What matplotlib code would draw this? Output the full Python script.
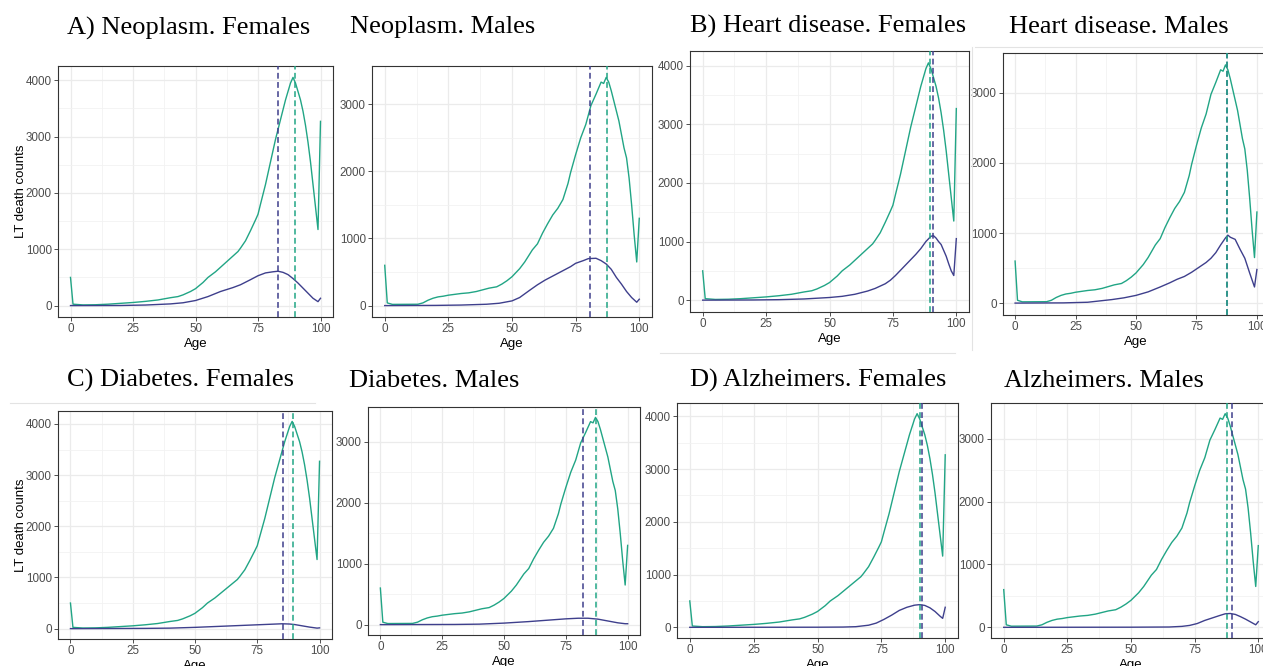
import matplotlib
matplotlib.use("Agg")
import matplotlib.pyplot as plt
from matplotlib.lines import Line2D

# all-cause life table deaths (green)
ages_f = [0, 1, 5, 10, 15, 20, 25, 30, 35, 40, 43, 45, 48, 50, 53, 55, 58, 60, 63, 65, 67, 68,
          70, 72, 74, 75, 76, 78, 80, 82, 84, 86, 88, 89, 90, 91, 92, 93, 94, 95, 96, 97, 98, 99, 100]
total_f = [500, 25, 12, 15, 25, 40, 55, 75, 100, 140, 160, 190, 250, 300, 410, 500, 600, 680, 800, 880, 960, 1020,
           1150, 1330, 1520, 1620, 1800, 2150, 2550, 2950, 3300, 3650, 3950, 4050, 3950, 3800, 3650, 3450, 3200, 2900, 2550, 2150, 1750, 1350, 3270]

ages_m = [0, 1, 3, 13, 15, 17, 19, 21, 23, 25, 28, 30, 33, 36, 39, 41, 44, 46, 48, 50, 53, 55, 58, 60, 61, 62,
          64, 66, 68, 70, 72, 73, 75, 77, 79, 81, 83, 85, 86, 87, 88, 89, 90, 91, 92, 93, 94, 95, 96, 97, 98, 99, 100]
total_m = [600, 40, 18, 20, 40, 80, 110, 130, 140, 155, 170, 180, 190, 210, 240, 260, 280, 320, 370, 430, 550, 650, 830, 920, 1000, 1080,
           1220, 1350, 1450, 1580, 1820, 1980, 2250, 2500, 2700, 2980, 3150, 3330, 3310, 3400, 3330, 3200, 3050, 2900, 2750, 2550, 2350, 2200, 1900, 1500, 1050, 650, 1300]

# cause specific deaths (blue)
neo_f_age = [0, 20, 30, 40, 45, 50, 55, 60, 65, 68, 72, 75, 78, 81, 83, 85, 87, 89, 91, 93, 95, 97, 99, 100]
neo_f = [0, 2, 10, 30, 50, 90, 160, 250, 320, 370, 460, 530, 580, 600, 610, 590, 550, 480, 400, 310, 220, 130, 70, 130]
neo_m_age = [0, 20, 30, 40, 45, 50, 53, 57, 60, 63, 66, 70, 73, 75, 78, 80, 83, 85, 87, 89, 91, 93, 95, 97, 99, 100]
neo_m = [0, 3, 8, 20, 35, 70, 120, 230, 310, 380, 440, 520, 580, 630, 670, 700, 705, 670, 620, 540, 420, 320, 210, 120, 50, 95]

heart_f_age = [0, 20, 30, 40, 50, 55, 60, 65, 68, 70, 72, 74, 76, 78, 80, 82, 84, 86, 88, 90, 91, 92, 93, 94, 95, 96, 97, 98, 99, 100]
heart_f = [0, 3, 8, 20, 45, 65, 100, 155, 200, 240, 280, 340, 420, 510, 600, 690, 780, 880, 1000, 1090, 1100, 1060, 1000, 950, 850, 750, 620, 500, 420, 1050]
heart_m_age = [0, 20, 30, 40, 45, 50, 55, 60, 64, 67, 70, 73, 76, 79, 81, 83, 85, 87, 88, 89, 91, 93, 95, 97, 99, 100]
heart_m = [0, 3, 12, 50, 75, 110, 160, 230, 290, 340, 380, 440, 510, 580, 640, 720, 830, 930, 970, 940, 910, 770, 640, 430, 230, 480]

diab_f_age = [0, 30, 40, 50, 60, 70, 80, 85, 88, 90, 93, 96, 99, 100]
diab_f = [0, 5, 10, 25, 45, 65, 85, 95, 90, 80, 55, 30, 10, 15]
diab_m_age = [0, 30, 40, 50, 60, 70, 75, 80, 84, 88, 92, 96, 99, 100]
diab_m = [0, 3, 8, 25, 50, 80, 95, 105, 105, 90, 60, 30, 15, 15]

alz_f_age = [0, 50, 60, 65, 70, 73, 76, 79, 82, 85, 88, 90, 92, 94, 96, 98, 99, 100]
alz_f = [0, 2, 5, 12, 40, 80, 150, 230, 320, 380, 420, 430, 415, 370, 300, 210, 170, 380]
alz_m_age = [0, 50, 65, 70, 73, 76, 79, 82, 85, 87, 89, 91, 93, 95, 97, 99, 100]
alz_m = [0, 2, 5, 15, 30, 60, 110, 150, 190, 215, 220, 205, 170, 130, 85, 40, 90]

# dashed reference ages (green = all causes, blue = cause)
vline_green = [89.7, 87.5, 89.5, 87.5, 89.5, 87.1, 90.0, 87.8]
vline_blue = [83.1, 80.7, 90.9, 87.6, 85.3, 81.8, 91.0, 89.5]

titles = ["A) Neoplasm. Females", "Neoplasm. Males",
          "B) Heart disease. Females", "Heart disease. Males",
          "C) Diabetes. Females", "Diabetes. Males",
          "D) Alzheimers. Females", "Alzheimers. Males"]

GREEN = "#21A585"
BLUE = "#3E3F8C"
W, H = 1263, 666

fig = plt.figure(figsize=(W / 100, H / 100), dpi=100)
fig.patch.set_facecolor("white")

# (left, top, right, bottom) in pixels, title x, title baseline
layout = [
    ((58, 66, 333, 317), 67, 35),
    ((372, 66, 652, 317), 350, 33),
    ((690, 51, 969, 312), 690, 33),
    ((1003, 53, 1269, 315), 1009, 33),
    ((58, 411, 332, 639), 67, 387),
    ((368, 407, 640, 635), 349, 387),
    ((677, 403, 958, 638), 690, 387),
    ((991, 403, 1271, 638), 1004, 387),
]
causes = [(neo_f_age, neo_f), (neo_m_age, neo_m), (heart_f_age, heart_f), (heart_m_age, heart_m),
          (diab_f_age, diab_f), (diab_m_age, diab_m), (alz_f_age, alz_f), (alz_m_age, alz_m)]

for i in range(8):
    (l, t, r, b), tx, ty = layout[i]
    ax = fig.add_axes([l / W, 1 - b / H, (r - l) / W, (b - t) / H])
    female = i % 2 == 0
    a_tot, v_tot = (ages_f, total_f) if female else (ages_m, total_m)
    a_c, v_c = causes[i]

    ax.plot(a_tot, v_tot, color=GREEN, lw=1.0, zorder=3)
    ax.plot(a_c, v_c, color=BLUE, lw=1.0, zorder=3)
    ax.axvline(vline_blue[i], color=BLUE, lw=1.1, ls=(0, (3.8, 2.2)), zorder=4)
    ax.axvline(vline_green[i], color=GREEN, lw=1.1, ls=(0, (3.8, 2.2)), zorder=4)

    top = max(v_tot)
    ax.set_xlim(-5, 105)
    ax.set_ylim(-0.05 * top, top * 1.05)
    ax.set_xticks([0, 25, 50, 75, 100])
    ax.set_xticks([12.5, 37.5, 62.5, 87.5], minor=True)
    if female:
        ax.set_yticks([0, 1000, 2000, 3000, 4000])
        ax.set_yticks([500, 1500, 2500, 3500], minor=True)
    else:
        ax.set_yticks([0, 1000, 2000, 3000])
        ax.set_yticks([500, 1500, 2500], minor=True)
    ax.grid(True, which="major", color="#EBEBEB", lw=0.9)
    ax.grid(True, which="minor", color="#F2F2F2", lw=0.6)
    ax.set_axisbelow(True)
    ax.tick_params(which="major", length=2.75, width=0.6, color="#333333",
                   labelsize=8.4, labelcolor="#4D4D4D", pad=1.8)
    ax.tick_params(which="minor", length=0)
    for lab in ax.get_xticklabels() + ax.get_yticklabels():
        lab.set_family("Liberation Sans")
    for s in ax.spines.values():
        s.set_color("#333333")
        s.set_linewidth(0.8)
    ax.set_xlabel("Age", fontsize=9.5, family="Liberation Sans", labelpad=2)
    if i in (0, 4):
        ax.set_ylabel("LT death counts", fontsize=9.5, family="Liberation Sans", labelpad=-1)

    fig.text(tx / W, 1 - ty / H, titles[i], family="Liberation Serif", fontsize=19,
             ha="left", va="baseline")

# faint edges left over from the pasted panels
for x0, x1, y0, y1 in [(660, 955, 353, 353), (975, 1263, 47, 47), (10, 315, 403, 403), (972, 972, 47, 350)]:
    fig.add_artist(Line2D([x0 / W, x1 / W], [1 - y0 / H, 1 - y1 / H], color="#E3E3E3", lw=0.8))

fig.savefig("out.png", dpi=100)
